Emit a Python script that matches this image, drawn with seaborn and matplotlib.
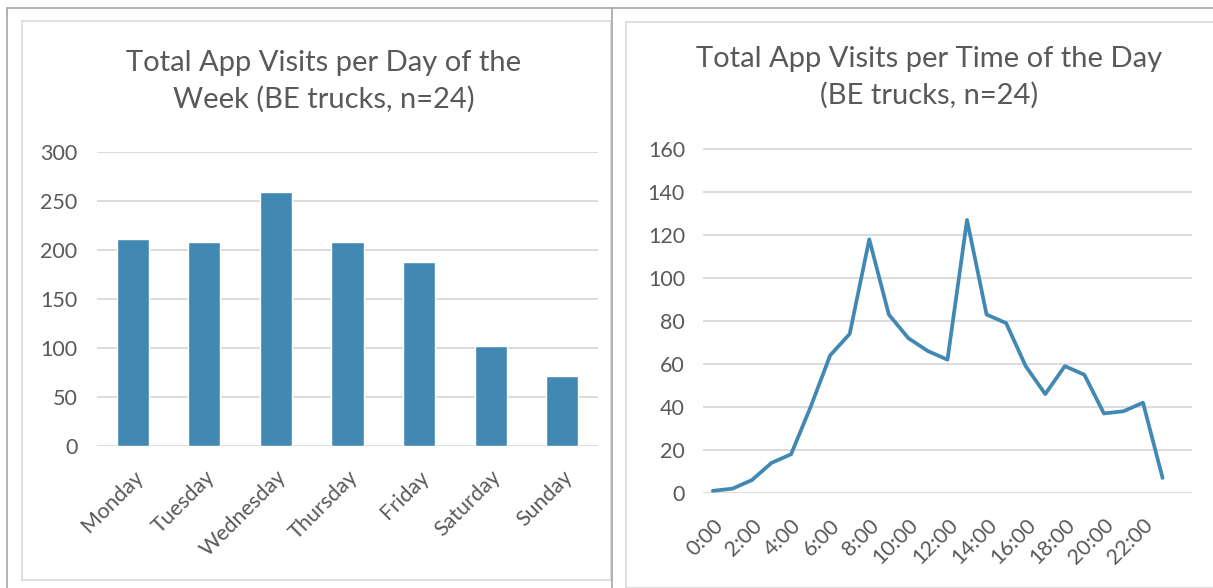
import matplotlib
matplotlib.use("Agg")
import matplotlib.pyplot as plt
import seaborn as sns
import pandas as pd
from matplotlib.patches import Rectangle
from matplotlib.lines import Line2D

# ================= Data =================
DAYS = ["Monday", "Tuesday", "Wednesday", "Thursday", "Friday", "Saturday", "Sunday"]
DAY_VISITS = [212, 209, 260, 209, 188, 102, 72]

HOURS = list(range(24))
HOUR_VISITS = [1, 2, 6, 14, 18, 40, 64, 74, 118, 83, 72, 66,
               62, 127, 83, 79, 59, 46, 59, 55, 37, 38, 42, 7]
HOUR_TICKS = list(range(0, 24, 2))
HOUR_LABELS = [f"{h}:00" for h in HOUR_TICKS]

# ================= Style =================
sns.set_theme(style="white")
plt.rcParams['font.family'] = ['Lato', 'DejaVu Sans']

BLUE = "#4189B3"
GRID = "#D9D9D9"
TEXT = "#595959"
TICK_SIZE = 15.5
TITLE_SIZE = 21

fig = plt.figure(figsize=(12.13, 5.88), dpi=100)
fig.patch.set_facecolor("white")

# panel frames
fig.add_artist(Line2D([0.0058, 1.0], [0.987, 0.987], color="#A6A6A6", lw=1.2))
fig.add_artist(Line2D([0.0058, 0.0058], [0.0, 0.987], color="#A6A6A6", lw=1.2))
fig.add_artist(Line2D([0.5045, 0.5045], [0.0, 0.987], color="#A6A6A6", lw=1.2))
fig.add_artist(Rectangle((0.018, 0.013), 0.486, 0.951, fill=False,
                         edgecolor=GRID, lw=1.2, transform=fig.transFigure))
fig.add_artist(Rectangle((0.516, 0.0), 0.49, 0.963, fill=False,
                         edgecolor=GRID, lw=1.2, transform=fig.transFigure))


def style_axes(ax):
    for s in ax.spines.values():
        s.set_visible(False)
    ax.grid(axis="y", color=GRID, lw=1.3)
    ax.grid(axis="x", visible=False)
    ax.set_axisbelow(True)
    ax.tick_params(axis="both", length=0, colors=TEXT, labelsize=TICK_SIZE)
    ax.set_xlabel("")
    ax.set_ylabel("")


# ---- left: visits per day ----
ax1 = fig.add_axes([0.080, 0.2415, 0.413, 0.500])
df_day = pd.DataFrame({"Day": DAYS, "Visits": DAY_VISITS})
sns.barplot(data=df_day, x="Day", y="Visits", color=BLUE, saturation=1,
            width=0.45, ax=ax1)
style_axes(ax1)
ax1.set_ylim(0, 300.5)
ax1.set_xlim(-0.5, 6.5)
ax1.set_yticks(range(0, 301, 50))
ax1.tick_params(axis="y", pad=14)
ax1.tick_params(axis="x", pad=15)
for lbl in ax1.get_xticklabels():
    lbl.set_rotation(45)
    lbl.set_ha("right")
    lbl.set_rotation_mode("anchor")
fig.text(0.267, 0.862, "Total App Visits per Day of the\nWeek (BE trucks, n=24)",
         ha="center", va="center", fontsize=TITLE_SIZE, color=TEXT, linespacing=1.45)

# ---- right: visits per hour ----
ax2 = fig.add_axes([0.5796, 0.1616, 0.403, 0.5865])
df_hour = pd.DataFrame({"Hour": HOURS, "Visits": HOUR_VISITS})
sns.lineplot(data=df_hour, x="Hour", y="Visits", color=BLUE, lw=2.7, ax=ax2)
style_axes(ax2)
ax2.set_ylim(0, 160.4)
ax2.set_xlim(-0.5, 24.5)
ax2.set_yticks(range(0, 161, 20))
ax2.set_xticks(HOUR_TICKS)
ax2.set_xticklabels(HOUR_LABELS, rotation=45, ha="right", rotation_mode="anchor")
ax2.tick_params(axis="y", pad=13)
ax2.tick_params(axis="x", pad=16)
fig.text(0.766, 0.869, "Total App Visits per Time of the Day\n(BE trucks, n=24)",
         ha="center", va="center", fontsize=TITLE_SIZE, color=TEXT, linespacing=1.45)

fig.savefig("out.png", dpi=100, facecolor="white")
